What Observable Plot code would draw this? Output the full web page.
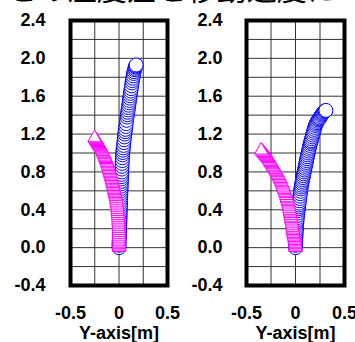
<!DOCTYPE html>
<html><head><meta charset="utf-8">
<script src="https://cdn.jsdelivr.net/npm/d3@7"></script>
<script src="https://cdn.jsdelivr.net/npm/@observablehq/plot@0.6"></script>
<style>
html,body{margin:0;padding:0;background:#fff;overflow:hidden;width:355px;height:342px}
#wrap{position:relative;width:355px;height:342px;overflow:hidden}
#title{position:absolute;left:7px;top:-28px;font:30px/30px "Noto Sans CJK JP",sans-serif;white-space:nowrap;color:#000}
#panels{position:absolute;left:0;top:0;display:flex}
#panels svg{display:block;overflow:visible}
</style></head><body>
<div id="wrap"><div id="panels"></div><div id="title"></div></div>
<script>
const titleText = "との温度差と移動速度に";
const xLabel = "Y-axis[m]";
const xTicks = [-0.5, 0, 0.5];
const yTicks = [-0.4, 0, 0.4, 0.8, 1.2, 1.6, 2.0, 2.4];
const xGrid = [-0.25, 0, 0.25];
const yGrid = [-0.2, 0, 0.2, 0.4, 0.6, 0.8, 1.0, 1.2, 1.4, 1.6, 1.8, 2.0, 2.2];

// Left panel, blue circles
const leftBlueX = [0,0.0005,0.001,0.002,0.003,0.004,0.005,0.0055,0.006,0.007,0.008,0.009,0.010,0.0105,0.011,0.012,0.013,0.014,0.015,0.0155,0.016,0.017,0.018,0.019,0.020,0.021,0.022,0.023,0.024,0.025,0.026,0.027,0.028,0.0295,0.031,0.0325,0.034,0.0355,0.037,0.039,0.041,0.044,0.047,0.050,0.053,0.0565,0.060,0.063,0.066,0.070,0.074,0.0785,0.083,0.0865,0.090,0.0935,0.097,0.1005,0.104,0.1075,0.111,0.1145,0.118,0.122,0.126,0.130,0.134,0.138,0.142,0.1465,0.151,0.1555,0.160,0.1645,0.169,0.173,0.177];
const leftBlueY = [0,0.025,0.05,0.075,0.10,0.125,0.15,0.175,0.20,0.225,0.25,0.275,0.30,0.325,0.35,0.375,0.40,0.425,0.45,0.475,0.50,0.525,0.55,0.575,0.60,0.625,0.65,0.675,0.70,0.725,0.75,0.775,0.80,0.83,0.86,0.89,0.92,0.95,0.98,1.005,1.03,1.055,1.08,1.11,1.14,1.17,1.20,1.225,1.25,1.28,1.31,1.345,1.38,1.405,1.43,1.455,1.48,1.505,1.53,1.555,1.58,1.605,1.63,1.655,1.68,1.71,1.74,1.765,1.79,1.815,1.84,1.86,1.88,1.895,1.91,1.92,1.93];
// Left panel, magenta triangles
const leftMagX = [0,0,0,0,0,0,0,-0.0005,-0.001,-0.0015,-0.002,-0.0025,-0.003,-0.004,-0.005,-0.006,-0.007,-0.0085,-0.010,-0.0115,-0.013,-0.0145,-0.016,-0.0185,-0.021,-0.024,-0.027,-0.030,-0.033,-0.0365,-0.040,-0.043,-0.046,-0.049,-0.052,-0.0555,-0.059,-0.0625,-0.066,-0.0695,-0.073,-0.077,-0.081,-0.085,-0.089,-0.093,-0.097,-0.101,-0.105,-0.109,-0.113,-0.1175,-0.122,-0.1265,-0.131,-0.1355,-0.140,-0.145,-0.150,-0.1555,-0.161,-0.1665,-0.172,-0.178,-0.184,-0.190,-0.196,-0.202,-0.208,-0.214,-0.220,-0.2265,-0.233,-0.239,-0.245,-0.252];
const leftMagY = [0,0.015,0.03,0.045,0.06,0.08,0.10,0.12,0.14,0.16,0.18,0.20,0.22,0.24,0.26,0.28,0.30,0.32,0.34,0.36,0.38,0.40,0.42,0.44,0.46,0.48,0.50,0.52,0.54,0.555,0.57,0.585,0.60,0.615,0.63,0.645,0.66,0.675,0.69,0.705,0.72,0.735,0.75,0.765,0.78,0.795,0.81,0.825,0.84,0.855,0.87,0.885,0.90,0.915,0.93,0.94,0.95,0.965,0.98,0.99,1.00,1.015,1.03,1.04,1.05,1.06,1.07,1.08,1.09,1.10,1.11,1.12,1.13,1.14,1.15,1.16];
// Right panel, blue circles
const rightBlueX = [0,0.0005,0.001,0.002,0.003,0.0045,0.006,0.0075,0.009,0.0105,0.012,0.0135,0.015,0.0175,0.020,0.023,0.026,0.0285,0.031,0.0335,0.036,0.039,0.042,0.0455,0.049,0.052,0.055,0.058,0.061,0.0645,0.068,0.072,0.076,0.080,0.084,0.088,0.092,0.096,0.100,0.104,0.108,0.112,0.116,0.120,0.124,0.1285,0.133,0.1375,0.142,0.1465,0.151,0.1555,0.160,0.165,0.170,0.175,0.180,0.1855,0.191,0.197,0.203,0.210,0.217,0.2245,0.232,0.240,0.248,0.256,0.264,0.272,0.280,0.288,0.296,0.303,0.310];
const rightBlueY = [0,0.025,0.05,0.075,0.10,0.125,0.15,0.175,0.20,0.225,0.25,0.27,0.29,0.315,0.34,0.365,0.39,0.41,0.43,0.45,0.47,0.495,0.52,0.545,0.57,0.595,0.62,0.64,0.66,0.68,0.70,0.72,0.74,0.76,0.78,0.80,0.82,0.84,0.86,0.88,0.90,0.92,0.94,0.96,0.98,1.00,1.02,1.04,1.06,1.08,1.10,1.115,1.13,1.15,1.17,1.19,1.21,1.23,1.25,1.27,1.29,1.305,1.32,1.335,1.35,1.36,1.37,1.385,1.40,1.41,1.42,1.43,1.44,1.445,1.45];
// Right panel, magenta triangles
const rightMagX = [0,-0.0005,-0.001,-0.0025,-0.004,-0.0065,-0.009,-0.012,-0.015,-0.0175,-0.020,-0.0225,-0.025,-0.0275,-0.030,-0.0325,-0.035,-0.0375,-0.040,-0.043,-0.046,-0.049,-0.052,-0.055,-0.058,-0.0615,-0.065,-0.0685,-0.072,-0.076,-0.080,-0.0845,-0.089,-0.094,-0.099,-0.1045,-0.110,-0.1155,-0.121,-0.127,-0.133,-0.139,-0.145,-0.1515,-0.158,-0.165,-0.172,-0.179,-0.186,-0.193,-0.200,-0.2075,-0.215,-0.2225,-0.230,-0.2375,-0.245,-0.2525,-0.260,-0.268,-0.276,-0.2845,-0.293,-0.3015,-0.310,-0.320,-0.330,-0.340,-0.350];
const rightMagY = [0,0.015,0.03,0.045,0.06,0.075,0.09,0.105,0.12,0.135,0.15,0.165,0.18,0.195,0.21,0.23,0.25,0.27,0.29,0.305,0.32,0.34,0.36,0.375,0.39,0.41,0.43,0.45,0.47,0.485,0.50,0.515,0.53,0.55,0.57,0.585,0.60,0.615,0.63,0.65,0.67,0.685,0.70,0.715,0.73,0.745,0.76,0.775,0.79,0.80,0.81,0.825,0.84,0.85,0.86,0.875,0.89,0.90,0.91,0.925,0.94,0.95,0.96,0.97,0.98,0.993,1.005,1.018,1.03];

document.getElementById("title").textContent = titleText;

function panel(bx, by, mx, my, width, ml, mr, pad) {
  const blue = bx.map((x, i) => ({x, y: by[i]}));
  const mag = mx.map((x, i) => ({x, y: my[i]}));
  return Plot.plot({
    width, height: 342,
    marginLeft: ml, marginRight: mr, marginTop: 20, marginBottom: 57,
    style: {fontFamily: "'Liberation Sans', Arial, sans-serif", fontSize: "18px", fontWeight: "bold", background: "transparent", color: "black", overflow: "visible"},
    x: {domain: [-0.5, 0.5], label: null},
    y: {domain: [-0.4, 2.4], label: null},
    marks: [
      Plot.gridX(xGrid, {stroke: "#333", strokeOpacity: 1, strokeWidth: 1}),
      Plot.gridY(yGrid, {stroke: "#333", strokeOpacity: 1, strokeWidth: 1}),
      Plot.dot(blue, {x: "x", y: "y", r: 7, stroke: "#0000ff", fill: "white", strokeWidth: 1}),
      Plot.dot(mag, {x: "x", y: "y", r: 5, symbol: "triangle", stroke: "#ff00ff", fill: "white", strokeWidth: 1}),
      Plot.frame({stroke: "black", strokeWidth: 4}),
      Plot.axisX(xTicks, {tickSize: 0, tickPadding: 21, tickFormat: d => String(d), label: xLabel, labelAnchor: "center", labelOffset: 53, labelArrow: "none"}),
      Plot.axisY(yTicks, {tickSize: 0, tickPadding: pad, tickFormat: d => d.toFixed(1), label: null})
    ]
  });
}
const host = document.getElementById("panels");
host.append(panel(leftBlueX, leftBlueY, leftMagX, leftMagY, 177, 70, 10, 25));
host.append(panel(rightBlueX, rightBlueY, rightMagX, rightMagY, 178, 69, 11, 24));
</script>
</body></html>
